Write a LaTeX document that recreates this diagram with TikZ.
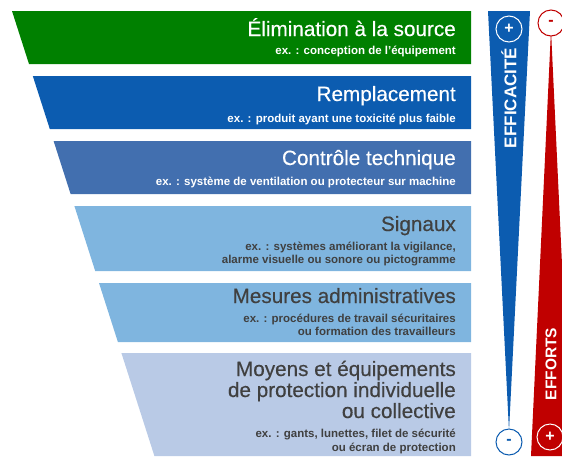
\documentclass[tikz,border=0pt]{standalone}
\usepackage{fontspec}
\setmainfont{Liberation Sans}
\newfontfamily\mediumfont[FakeBold=0.4]{Liberation Sans}
\usetikzlibrary{positioning,calc}
\definecolor{sourcegreen}{RGB}{0,128,0}
\definecolor{primaryblue}{RGB}{12,92,176}
\definecolor{techblue}{RGB}{66,111,175}
\definecolor{signalblue}{RGB}{127,181,223}
\definecolor{protectblue}{RGB}{185,202,230}
\definecolor{effortred}{RGB}{192,0,0}
\definecolor{textgrey}{RGB}{64,64,64}

\begin{document}
\begin{tikzpicture}[x=1pt,y=-1pt,
    title/.style={anchor=base east, align=right, inner sep=0pt, font=\mediumfont\fontsize{20.7}{21}\selectfont},
    example/.style={anchor=base east, align=right, inner sep=0pt, font=\bfseries\fontsize{11.5}{13.5}\selectfont},
    badge/.style={circle, minimum size=26pt, inner sep=0pt, line width=1pt, font=\bfseries\fontsize{16}{16}\selectfont},
    axislabel/.style={rotate=90, text=white, inner sep=0pt, font=\bfseries\fontsize{15.5}{16}\selectfont}]
    \useasboundingbox (0,0) rectangle (562,456);
    \clip (0,0) rectangle (562,456);

    % Elimination
    \fill[sourcegreen] (12,11) -- (471,11) -- (471,64) -- (29,64) -- cycle;
    \node[title, text=white] (elim) at (456,36) {Élimination à la source};
    \node[example, text=white] (elimex) at (456,54) {ex. : conception de l'équipement};

    % Remplacement
    \fill[primaryblue] (32.8,76) -- (471,76) -- (471,129) -- (49.8,129) -- cycle;
    \node[title, text=white] (repl) at (456,101) {Remplacement};
    \node[example, text=white] (replex) at (456,122) {ex. : produit ayant une toxicité plus faible};

    % Controle technique
    \fill[techblue] (53.6,141) -- (471,141) -- (471,194) -- (70.6,194) -- cycle;
    \node[title, text=white] (tech) at (456,165) {Contrôle technique};
    \node[example, text=white] (techex) at (456,185) {ex. : système de ventilation ou protecteur sur machine};

    % Signaux
    \fill[signalblue] (74.4,206) -- (471,206) -- (471,271) -- (95.2,271) -- cycle;
    \node[title, text=textgrey] (signal) at (456,231) {Signaux};
    \node[example, text=textgrey] (signalex) at (456,263.5) {ex. : systèmes améliorant la vigilance,\\alarme visuelle ou sonore ou pictogramme};

    % Mesures administratives
    \fill[signalblue] (99,283) -- (471,283) -- (471,342) -- (117.9,342) -- cycle;
    \node[title, text=textgrey] (admin) at (456,303) {Mesures administratives};
    \node[example, text=textgrey] (adminex) at (456,335.5) {ex. : procédures de travail sécuritaires\\ou formation des travailleurs};

    % Protection
    \fill[protectblue] (121.4,353) -- (471,353) -- (471,456) -- (154.4,456) -- cycle;
    \node[title, text=textgrey] (protect) at (456,418) {Moyens et équipements\\de protection individuelle\\ou collective};
    \node[example, text=textgrey] (protectex) at (456,451) {ex. : gants, lunettes, filet de sécurité\\ou écran de protection};

    % Efficacite wedge
    \fill[primaryblue] (488,11) -- (530,11) -- (509,431) -- cycle;
    \node[badge, draw=white, text=white] (effplus) at (509,29) {+};
    \node[badge, draw=primaryblue, fill=white, text=primaryblue] (effminus) at (509,442) {-};
    \node[axislabel, font=\bfseries\fontsize{17}{17}\selectfont] (efficacite) at (509,98) {EFFICACITÉ};

    % Efforts wedge
    \fill[effortred] (551,30) -- (571,456) -- (531,456) -- cycle;
    \node[badge, draw=effortred, fill=white, text=effortred] (effortminus) at (551,23) {-};
    \node[badge, draw=white, text=white] (effortplus) at (550,437) {+};
    \node[axislabel] (efforts) at (551,364) {EFFORTS};
\end{tikzpicture}
\end{document}
